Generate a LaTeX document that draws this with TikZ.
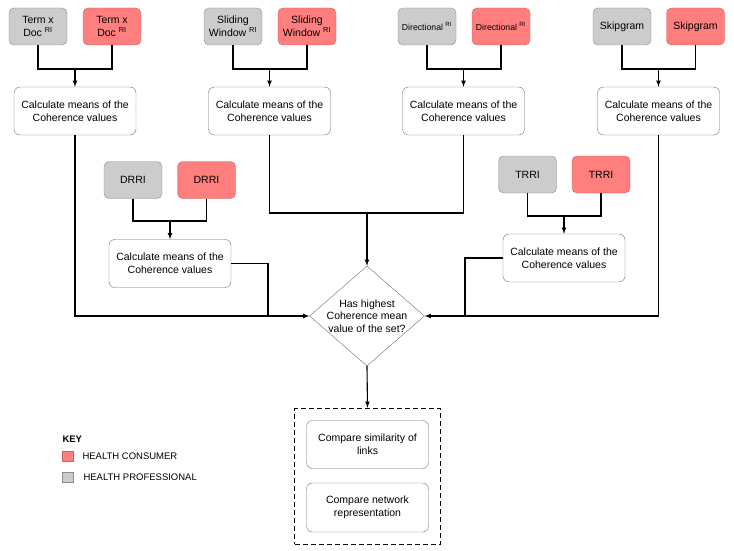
\documentclass[tikz,border=0pt]{standalone}
\usepackage{fontspec}
\setmainfont{Liberation Sans}
\usepackage{tikz}
\usetikzlibrary{arrows,shapes.geometric,fit}
\definecolor{profGray}{HTML}{CCCCCC}
\definecolor{profEdge}{HTML}{8C8C8C}
\definecolor{consRed}{HTML}{FF7F7F}
\definecolor{consEdge}{HTML}{C86464}
\definecolor{boxEdge}{HTML}{6E6E6E}
\newcommand{\ri}{\textsuperscript{RI}}

\begin{document}
\begin{tikzpicture}[x=1pt,y=-1pt,
  every node/.style={font=\fontsize{10.5}{12.6}\selectfont},
  src/.style={draw,rounded corners=5pt,minimum width=58pt,minimum height=37pt,inner sep=1pt,align=center},
  prof/.style={src,fill=profGray,draw=profEdge},
  cons/.style={src,fill=consRed,draw=consEdge},
  calcbox/.style={draw=boxEdge,rounded corners=6pt,minimum width=122pt,minimum height=48pt,align=center},
  decision/.style={diamond,draw=boxEdge,minimum width=115pt,minimum height=100pt,inner sep=0pt},
  wire/.style={line width=1.1pt},
  arr/.style={wire,-latex}]
\useasboundingbox (0,0) rectangle (734,551);

% source runs
\node[prof] (tdG) at (38,26.5) {Term x\\Doc \ri};
\node[cons] (tdR) at (112,26.5) {Term x\\Doc \ri};
\node[prof] (swG) at (233,26.5) {Sliding\\Window \ri};
\node[cons] (swR) at (307,26.5) {Sliding\\Window \ri};
\node[prof,font=\fontsize{8.7}{10}\selectfont] (dirG) at (427,26.5) {Directional \ri};
\node[cons,font=\fontsize{8.7}{10}\selectfont] (dirR) at (501,26.5) {Directional \ri};
\node[prof] (sgG) at (622,26.5) {Skipgram};
\node[cons] (sgR) at (695.5,26.5) {Skipgram};
\node[prof] (drG) at (133,180) {DRRI};
\node[cons] (drR) at (206.5,180) {DRRI};
\node[prof] (trG) at (527.5,174.5) {TRRI};
\node[cons] (trR) at (601,174.5) {TRRI};

% means
\node[calcbox] (tdC) at (75,111) {Calculate means of the\\Coherence values};
\node[calcbox] (swC) at (269.5,111) {Calculate means of the\\Coherence values};
\node[calcbox] (dirC) at (463.5,111) {Calculate means of the\\Coherence values};
\node[calcbox] (sgC) at (658.5,111) {Calculate means of the\\Coherence values};
\node[calcbox] (drC) at (170,263.5) {Calculate means of the\\Coherence values};
\node[calcbox] (trC) at (564,258) {Calculate means of the\\Coherence values};

% decision
\node[decision] (dec) at (367,316) {};
\node[align=center] (decTxt) at (dec.center) {Has highest\\Coherence mean\\value of the set?};

% comparison
\node[calcbox] (cmpA) at (367.5,444.5) {Compare similarity of\\links};
\node[calcbox,minimum height=49pt] (cmpB) at (367.5,507.5) {Compare network\\representation};
\node[draw,line width=1.1pt,dash pattern=on 5pt off 3pt,inner xsep=11.5pt,inner ysep=12pt,fit=(cmpA)(cmpB)] (cmpBox) {};

% key
\node[anchor=west,font=\fontsize{9.5}{11}\selectfont\bfseries] (keyT) at (59,439) {KEY};
\node[draw=consEdge,fill=consRed,minimum width=11pt,minimum height=10pt,inner sep=0pt] (keyR) at (67.5,456) {};
\node[anchor=west,font=\fontsize{9.5}{11}\selectfont] (keyRT) at (79,456) {HEALTH CONSUMER};
\node[draw=profEdge,fill=profGray,minimum width=11pt,minimum height=10pt,inner sep=0pt] (keyG) at (67.5,477) {};
\node[anchor=west,font=\fontsize{9.5}{11}\selectfont] (keyGT) at (80,477) {HEALTH PROFESSIONAL};

% joins
\coordinate (tdJ) at (75,69);
\coordinate (swJ) at (269.5,69);
\coordinate (dirJ) at (463.5,69);
\coordinate (sgJ) at (658.5,69);
\coordinate (drJ) at (170,221);
\coordinate (trJ) at (564,216);
\coordinate (topJ) at (367,213);
\coordinate (drL) at (268,316);
\coordinate (trL) at (465,316);

\draw[wire] (tdG.south) |- (tdJ) -| (tdR.south);
\draw[arr] (tdJ) -- (tdC.north);
\draw[wire] (swG.south) |- (swJ) -| (swR.south);
\draw[arr] (swJ) -- (swC.north);
\draw[wire] (dirG.south) |- (dirJ) -| (dirR.south);
\draw[arr] (dirJ) -- (dirC.north);
\draw[wire] (sgG.south) |- (sgJ) -| (sgR.south);
\draw[arr] (sgJ) -- (sgC.north);
\draw[wire] (drG.south) |- (drJ) -| (drR.south);
\draw[arr] (drJ) -- (drC.north);
\draw[wire] (trG.south) |- (trJ) -| (trR.south);
\draw[arr] (trJ) -- (trC.north);

\draw[arr] (tdC.south) |- (dec.west);
\draw[wire] (drC.east) -| (drL);
\draw[wire] (swC.south) |- (topJ);
\draw[wire] (dirC.south) |- (topJ);
\draw[arr] (topJ) -- (dec.north);
\draw[arr] (sgC.south) |- (dec.east);
\draw[wire] (trC.west) -| (trL);
\draw[arr] (dec.south) -- (cmpBox.north);
\end{tikzpicture}
\end{document}
